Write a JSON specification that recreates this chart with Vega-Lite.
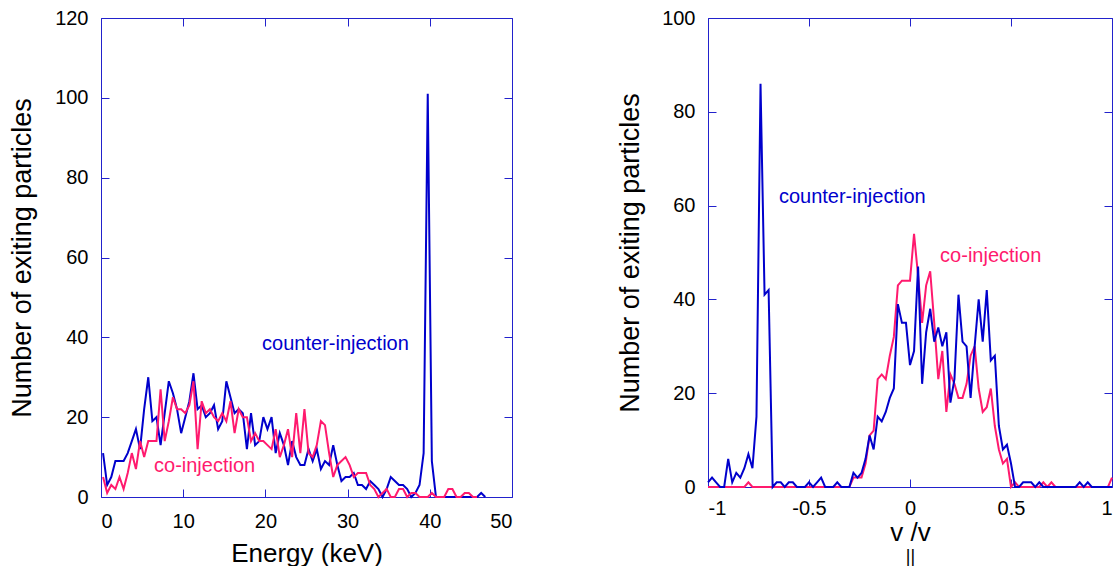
{
 "$schema": "https://vega.github.io/schema/vega-lite/v6.json",
 "background": "white",
 "padding": {"left": 8, "top": 8, "right": 0, "bottom": 0},
 "spacing": 103,
 "config": {
  "view": {"stroke": null},
  "font": "Liberation Sans",
  "axis": {"labelFont": "Liberation Sans", "titleFont": "Liberation Sans", "labelFontSize": 20, "titleFontSize": 26, "titleFontWeight": "normal", "labelColor": "#000000", "titleColor": "#000000", "domainColor": "#2222cc", "tickColor": "#2222cc", "grid": false, "tickSize": -8, "domainWidth": 1, "tickWidth": 1, "zindex": 1},
  "axisY": {"titleFontSize": 27}
 },
 "datasets": {
  "energy": [
   {"series":"counter-injection","E":0.25,"n":11},{"series":"counter-injection","E":0.75,"n":3},{"series":"counter-injection","E":1.25,"n":5},{"series":"counter-injection","E":1.75,"n":9},{"series":"counter-injection","E":2.25,"n":9},{"series":"counter-injection","E":2.75,"n":9},{"series":"counter-injection","E":3.25,"n":11},{"series":"counter-injection","E":3.75,"n":14},{"series":"counter-injection","E":4.25,"n":17},{"series":"counter-injection","E":4.75,"n":12},
   {"series":"counter-injection","E":5.25,"n":22},{"series":"counter-injection","E":5.75,"n":30},{"series":"counter-injection","E":6.25,"n":19},{"series":"counter-injection","E":6.75,"n":20},{"series":"counter-injection","E":7.25,"n":13},{"series":"counter-injection","E":7.75,"n":21},{"series":"counter-injection","E":8.25,"n":29},{"series":"counter-injection","E":8.75,"n":26},{"series":"counter-injection","E":9.25,"n":22},{"series":"counter-injection","E":9.75,"n":16},
   {"series":"counter-injection","E":10.25,"n":20},{"series":"counter-injection","E":10.75,"n":24},{"series":"counter-injection","E":11.25,"n":31},{"series":"counter-injection","E":11.75,"n":22},{"series":"counter-injection","E":12.25,"n":23},{"series":"counter-injection","E":12.75,"n":20},{"series":"counter-injection","E":13.25,"n":21},{"series":"counter-injection","E":13.75,"n":23},{"series":"counter-injection","E":14.25,"n":17},{"series":"counter-injection","E":14.75,"n":19},
   {"series":"counter-injection","E":15.25,"n":29},{"series":"counter-injection","E":15.75,"n":25},{"series":"counter-injection","E":16.25,"n":21},{"series":"counter-injection","E":16.75,"n":22},{"series":"counter-injection","E":17.25,"n":21},{"series":"counter-injection","E":17.75,"n":12},{"series":"counter-injection","E":18.25,"n":21},{"series":"counter-injection","E":18.75,"n":13},{"series":"counter-injection","E":19.25,"n":14},{"series":"counter-injection","E":19.75,"n":20},
   {"series":"counter-injection","E":20.25,"n":17},{"series":"counter-injection","E":20.75,"n":20},{"series":"counter-injection","E":21.25,"n":11},{"series":"counter-injection","E":21.75,"n":16},{"series":"counter-injection","E":22.25,"n":13},{"series":"counter-injection","E":22.75,"n":8},{"series":"counter-injection","E":23.25,"n":14},{"series":"counter-injection","E":23.75,"n":10},{"series":"counter-injection","E":24.25,"n":8},{"series":"counter-injection","E":24.75,"n":8},
   {"series":"counter-injection","E":25.25,"n":12},{"series":"counter-injection","E":25.75,"n":9},{"series":"counter-injection","E":26.25,"n":12},{"series":"counter-injection","E":26.75,"n":7},{"series":"counter-injection","E":27.25,"n":9},{"series":"counter-injection","E":27.75,"n":8},{"series":"counter-injection","E":28.25,"n":13},{"series":"counter-injection","E":28.75,"n":8},{"series":"counter-injection","E":29.25,"n":4},{"series":"counter-injection","E":29.75,"n":5},
   {"series":"counter-injection","E":30.25,"n":5},{"series":"counter-injection","E":30.75,"n":6},{"series":"counter-injection","E":31.25,"n":3},{"series":"counter-injection","E":31.75,"n":3},{"series":"counter-injection","E":32.25,"n":2},{"series":"counter-injection","E":32.75,"n":4},{"series":"counter-injection","E":33.25,"n":3},{"series":"counter-injection","E":33.75,"n":2},{"series":"counter-injection","E":34.25,"n":0},{"series":"counter-injection","E":34.75,"n":2},
   {"series":"counter-injection","E":35.25,"n":5},{"series":"counter-injection","E":35.75,"n":4},{"series":"counter-injection","E":36.25,"n":3},{"series":"counter-injection","E":36.75,"n":3},{"series":"counter-injection","E":37.25,"n":2},{"series":"counter-injection","E":37.75,"n":0},{"series":"counter-injection","E":38.25,"n":1},{"series":"counter-injection","E":38.75,"n":3},{"series":"counter-injection","E":39.25,"n":11},{"series":"counter-injection","E":39.75,"n":101},
   {"series":"counter-injection","E":40.25,"n":9},{"series":"counter-injection","E":40.75,"n":0},{"series":"counter-injection","E":41.25,"n":0},{"series":"counter-injection","E":41.75,"n":0},{"series":"counter-injection","E":42.25,"n":0},{"series":"counter-injection","E":42.75,"n":0},{"series":"counter-injection","E":43.25,"n":0},{"series":"counter-injection","E":43.75,"n":0},{"series":"counter-injection","E":44.25,"n":0},{"series":"counter-injection","E":44.75,"n":0},
   {"series":"counter-injection","E":45.25,"n":0},{"series":"counter-injection","E":45.75,"n":0},{"series":"counter-injection","E":46.25,"n":1},{"series":"counter-injection","E":46.75,"n":0},
   {"series":"co-injection","E":0.25,"n":5},{"series":"co-injection","E":0.75,"n":1},{"series":"co-injection","E":1.25,"n":3},{"series":"co-injection","E":1.75,"n":2},{"series":"co-injection","E":2.25,"n":5},{"series":"co-injection","E":2.75,"n":2},{"series":"co-injection","E":3.25,"n":6},{"series":"co-injection","E":3.75,"n":11},{"series":"co-injection","E":4.25,"n":7},{"series":"co-injection","E":4.75,"n":14},
   {"series":"co-injection","E":5.25,"n":10},{"series":"co-injection","E":5.75,"n":14},{"series":"co-injection","E":6.25,"n":14},{"series":"co-injection","E":6.75,"n":14},{"series":"co-injection","E":7.25,"n":27},{"series":"co-injection","E":7.75,"n":14},{"series":"co-injection","E":8.25,"n":19},{"series":"co-injection","E":8.75,"n":25},{"series":"co-injection","E":9.25,"n":22},{"series":"co-injection","E":9.75,"n":22},
   {"series":"co-injection","E":10.25,"n":21},{"series":"co-injection","E":10.75,"n":23},{"series":"co-injection","E":11.25,"n":29},{"series":"co-injection","E":11.75,"n":12},{"series":"co-injection","E":12.25,"n":24},{"series":"co-injection","E":12.75,"n":21},{"series":"co-injection","E":13.25,"n":22},{"series":"co-injection","E":13.75,"n":20},{"series":"co-injection","E":14.25,"n":19},{"series":"co-injection","E":14.75,"n":21},
   {"series":"co-injection","E":15.25,"n":19},{"series":"co-injection","E":15.75,"n":24},{"series":"co-injection","E":16.25,"n":16},{"series":"co-injection","E":16.75,"n":22},{"series":"co-injection","E":17.25,"n":20},{"series":"co-injection","E":17.75,"n":20},{"series":"co-injection","E":18.25,"n":14},{"series":"co-injection","E":18.75,"n":16},{"series":"co-injection","E":19.25,"n":14},{"series":"co-injection","E":19.75,"n":14},
   {"series":"co-injection","E":20.25,"n":13},{"series":"co-injection","E":20.75,"n":12},{"series":"co-injection","E":21.25,"n":17},{"series":"co-injection","E":21.75,"n":10},{"series":"co-injection","E":22.25,"n":13},{"series":"co-injection","E":22.75,"n":17},{"series":"co-injection","E":23.25,"n":10},{"series":"co-injection","E":23.75,"n":21},{"series":"co-injection","E":24.25,"n":11},{"series":"co-injection","E":24.75,"n":22},
   {"series":"co-injection","E":25.25,"n":11},{"series":"co-injection","E":25.75,"n":10},{"series":"co-injection","E":26.25,"n":13},{"series":"co-injection","E":26.75,"n":19},{"series":"co-injection","E":27.25,"n":18},{"series":"co-injection","E":27.75,"n":11},{"series":"co-injection","E":28.25,"n":5},{"series":"co-injection","E":28.75,"n":8},{"series":"co-injection","E":29.25,"n":9},{"series":"co-injection","E":29.75,"n":10},
   {"series":"co-injection","E":30.25,"n":8},{"series":"co-injection","E":30.75,"n":5},{"series":"co-injection","E":31.25,"n":6},{"series":"co-injection","E":31.75,"n":6},{"series":"co-injection","E":32.25,"n":6},{"series":"co-injection","E":32.75,"n":3},{"series":"co-injection","E":33.25,"n":2},{"series":"co-injection","E":33.75,"n":0},{"series":"co-injection","E":34.25,"n":1},{"series":"co-injection","E":34.75,"n":2},
   {"series":"co-injection","E":35.25,"n":0},{"series":"co-injection","E":35.75,"n":0},{"series":"co-injection","E":36.25,"n":2},{"series":"co-injection","E":36.75,"n":2},{"series":"co-injection","E":37.25,"n":0},{"series":"co-injection","E":37.75,"n":1},{"series":"co-injection","E":38.25,"n":1},{"series":"co-injection","E":38.75,"n":0},{"series":"co-injection","E":39.25,"n":0},{"series":"co-injection","E":39.75,"n":0},
   {"series":"co-injection","E":40.25,"n":1},{"series":"co-injection","E":40.75,"n":0},{"series":"co-injection","E":41.25,"n":0},{"series":"co-injection","E":41.75,"n":0},{"series":"co-injection","E":42.25,"n":2},{"series":"co-injection","E":42.75,"n":2},{"series":"co-injection","E":43.25,"n":0},{"series":"co-injection","E":43.75,"n":0},{"series":"co-injection","E":44.25,"n":1},{"series":"co-injection","E":44.75,"n":1},
   {"series":"co-injection","E":45.25,"n":0},{"series":"co-injection","E":45.75,"n":0}
  ],
  "vel": [
   {"series":"co-injection","v":-1.0,"n":0},{"series":"co-injection","v":-0.98,"n":0},{"series":"co-injection","v":-0.96,"n":0},{"series":"co-injection","v":-0.94,"n":0},{"series":"co-injection","v":-0.92,"n":0},{"series":"co-injection","v":-0.9,"n":0},{"series":"co-injection","v":-0.88,"n":0},{"series":"co-injection","v":-0.86,"n":0},{"series":"co-injection","v":-0.84,"n":0},{"series":"co-injection","v":-0.82,"n":0},
   {"series":"co-injection","v":-0.8,"n":1},{"series":"co-injection","v":-0.78,"n":0},{"series":"co-injection","v":-0.76,"n":0},{"series":"co-injection","v":-0.74,"n":0},{"series":"co-injection","v":-0.72,"n":0},{"series":"co-injection","v":-0.7,"n":0},{"series":"co-injection","v":-0.68,"n":0},{"series":"co-injection","v":-0.66,"n":0},{"series":"co-injection","v":-0.64,"n":0},{"series":"co-injection","v":-0.62,"n":0},
   {"series":"co-injection","v":-0.6,"n":0},{"series":"co-injection","v":-0.58,"n":0},{"series":"co-injection","v":-0.56,"n":0},{"series":"co-injection","v":-0.54,"n":0},{"series":"co-injection","v":-0.52,"n":0},{"series":"co-injection","v":-0.5,"n":0},{"series":"co-injection","v":-0.48,"n":0},{"series":"co-injection","v":-0.46,"n":0},{"series":"co-injection","v":-0.44,"n":0},{"series":"co-injection","v":-0.42,"n":0},
   {"series":"co-injection","v":-0.4,"n":0},{"series":"co-injection","v":-0.38,"n":0},{"series":"co-injection","v":-0.36,"n":0},{"series":"co-injection","v":-0.34,"n":0},{"series":"co-injection","v":-0.32,"n":0},{"series":"co-injection","v":-0.3,"n":0},{"series":"co-injection","v":-0.28,"n":2},{"series":"co-injection","v":-0.26,"n":2},{"series":"co-injection","v":-0.24,"n":2},{"series":"co-injection","v":-0.22,"n":5},
   {"series":"co-injection","v":-0.2,"n":11},{"series":"co-injection","v":-0.18,"n":12},{"series":"co-injection","v":-0.16,"n":23},{"series":"co-injection","v":-0.14,"n":24},{"series":"co-injection","v":-0.12,"n":23},{"series":"co-injection","v":-0.1,"n":28},{"series":"co-injection","v":-0.08,"n":32},{"series":"co-injection","v":-0.06,"n":43},{"series":"co-injection","v":-0.04,"n":44},{"series":"co-injection","v":-0.02,"n":44},
   {"series":"co-injection","v":0.0,"n":44},{"series":"co-injection","v":0.02,"n":54},{"series":"co-injection","v":0.04,"n":45},{"series":"co-injection","v":0.06,"n":35},{"series":"co-injection","v":0.08,"n":43},{"series":"co-injection","v":0.1,"n":46},{"series":"co-injection","v":0.12,"n":35},{"series":"co-injection","v":0.14,"n":23},{"series":"co-injection","v":0.16,"n":29},{"series":"co-injection","v":0.18,"n":16},
   {"series":"co-injection","v":0.2,"n":24},{"series":"co-injection","v":0.22,"n":22},{"series":"co-injection","v":0.24,"n":19},{"series":"co-injection","v":0.26,"n":19},{"series":"co-injection","v":0.28,"n":22},{"series":"co-injection","v":0.3,"n":28},{"series":"co-injection","v":0.32,"n":30},{"series":"co-injection","v":0.34,"n":21},{"series":"co-injection","v":0.36,"n":16},{"series":"co-injection","v":0.38,"n":17},
   {"series":"co-injection","v":0.4,"n":21},{"series":"co-injection","v":0.42,"n":13},{"series":"co-injection","v":0.44,"n":8},{"series":"co-injection","v":0.46,"n":5},{"series":"co-injection","v":0.48,"n":6},{"series":"co-injection","v":0.5,"n":0},{"series":"co-injection","v":0.52,"n":1},{"series":"co-injection","v":0.54,"n":0},{"series":"co-injection","v":0.56,"n":0},{"series":"co-injection","v":0.58,"n":0},
   {"series":"co-injection","v":0.6,"n":0},{"series":"co-injection","v":0.62,"n":0},{"series":"co-injection","v":0.64,"n":0},{"series":"co-injection","v":0.66,"n":1},{"series":"co-injection","v":0.68,"n":0},{"series":"co-injection","v":0.7,"n":1},{"series":"co-injection","v":0.72,"n":0},{"series":"co-injection","v":0.74,"n":0},{"series":"co-injection","v":0.76,"n":0},{"series":"co-injection","v":0.78,"n":0},
   {"series":"co-injection","v":0.8,"n":0},{"series":"co-injection","v":0.82,"n":0},{"series":"co-injection","v":0.84,"n":0},{"series":"co-injection","v":0.86,"n":0},{"series":"co-injection","v":0.88,"n":0},{"series":"co-injection","v":0.9,"n":0},{"series":"co-injection","v":0.92,"n":0},{"series":"co-injection","v":0.94,"n":0},{"series":"co-injection","v":0.96,"n":0},{"series":"co-injection","v":0.98,"n":0},{"series":"co-injection","v":1.0,"n":2},
   {"series":"counter-injection","v":-1.0,"n":1},{"series":"counter-injection","v":-0.98,"n":2},{"series":"counter-injection","v":-0.96,"n":1},{"series":"counter-injection","v":-0.94,"n":0},{"series":"counter-injection","v":-0.92,"n":0},{"series":"counter-injection","v":-0.9,"n":6},{"series":"counter-injection","v":-0.88,"n":1},{"series":"counter-injection","v":-0.86,"n":3},{"series":"counter-injection","v":-0.84,"n":2},{"series":"counter-injection","v":-0.82,"n":4},
   {"series":"counter-injection","v":-0.8,"n":7},{"series":"counter-injection","v":-0.78,"n":4},{"series":"counter-injection","v":-0.76,"n":15},{"series":"counter-injection","v":-0.74,"n":86},{"series":"counter-injection","v":-0.72,"n":41},{"series":"counter-injection","v":-0.7,"n":42},{"series":"counter-injection","v":-0.68,"n":0},{"series":"counter-injection","v":-0.66,"n":1},{"series":"counter-injection","v":-0.64,"n":1},{"series":"counter-injection","v":-0.62,"n":0},
   {"series":"counter-injection","v":-0.6,"n":1},{"series":"counter-injection","v":-0.58,"n":1},{"series":"counter-injection","v":-0.56,"n":0},{"series":"counter-injection","v":-0.54,"n":0},{"series":"counter-injection","v":-0.52,"n":0},{"series":"counter-injection","v":-0.5,"n":1},{"series":"counter-injection","v":-0.48,"n":0},{"series":"counter-injection","v":-0.46,"n":1},{"series":"counter-injection","v":-0.44,"n":2},{"series":"counter-injection","v":-0.42,"n":0},
   {"series":"counter-injection","v":-0.4,"n":0},{"series":"counter-injection","v":-0.38,"n":0},{"series":"counter-injection","v":-0.36,"n":1},{"series":"counter-injection","v":-0.34,"n":0},{"series":"counter-injection","v":-0.32,"n":0},{"series":"counter-injection","v":-0.3,"n":0},{"series":"counter-injection","v":-0.28,"n":3},{"series":"counter-injection","v":-0.26,"n":2},{"series":"counter-injection","v":-0.24,"n":3},{"series":"counter-injection","v":-0.22,"n":6},
   {"series":"counter-injection","v":-0.2,"n":11},{"series":"counter-injection","v":-0.18,"n":8},{"series":"counter-injection","v":-0.16,"n":15},{"series":"counter-injection","v":-0.14,"n":14},{"series":"counter-injection","v":-0.12,"n":16},{"series":"counter-injection","v":-0.1,"n":19},{"series":"counter-injection","v":-0.08,"n":21},{"series":"counter-injection","v":-0.06,"n":39},{"series":"counter-injection","v":-0.04,"n":35},{"series":"counter-injection","v":-0.02,"n":35},
   {"series":"counter-injection","v":0.0,"n":26},{"series":"counter-injection","v":0.02,"n":29},{"series":"counter-injection","v":0.04,"n":47},{"series":"counter-injection","v":0.06,"n":22},{"series":"counter-injection","v":0.08,"n":33},{"series":"counter-injection","v":0.1,"n":38},{"series":"counter-injection","v":0.12,"n":31},{"series":"counter-injection","v":0.14,"n":34},{"series":"counter-injection","v":0.16,"n":30},{"series":"counter-injection","v":0.18,"n":33},
   {"series":"counter-injection","v":0.2,"n":18},{"series":"counter-injection","v":0.22,"n":23},{"series":"counter-injection","v":0.24,"n":41},{"series":"counter-injection","v":0.26,"n":31},{"series":"counter-injection","v":0.28,"n":30},{"series":"counter-injection","v":0.3,"n":19},{"series":"counter-injection","v":0.32,"n":30},{"series":"counter-injection","v":0.34,"n":40},{"series":"counter-injection","v":0.36,"n":31},{"series":"counter-injection","v":0.38,"n":42},
   {"series":"counter-injection","v":0.4,"n":27},{"series":"counter-injection","v":0.42,"n":28},{"series":"counter-injection","v":0.44,"n":13},{"series":"counter-injection","v":0.46,"n":8},{"series":"counter-injection","v":0.48,"n":9},{"series":"counter-injection","v":0.5,"n":5},{"series":"counter-injection","v":0.52,"n":0},{"series":"counter-injection","v":0.54,"n":0},{"series":"counter-injection","v":0.56,"n":1},{"series":"counter-injection","v":0.58,"n":1},
   {"series":"counter-injection","v":0.6,"n":1},{"series":"counter-injection","v":0.62,"n":0},{"series":"counter-injection","v":0.64,"n":1},{"series":"counter-injection","v":0.66,"n":0},{"series":"counter-injection","v":0.68,"n":0},{"series":"counter-injection","v":0.7,"n":0},{"series":"counter-injection","v":0.72,"n":0},{"series":"counter-injection","v":0.74,"n":0},{"series":"counter-injection","v":0.76,"n":0},{"series":"counter-injection","v":0.78,"n":0},
   {"series":"counter-injection","v":0.8,"n":0},{"series":"counter-injection","v":0.82,"n":0},{"series":"counter-injection","v":0.84,"n":1},{"series":"counter-injection","v":0.86,"n":0},{"series":"counter-injection","v":0.88,"n":1},{"series":"counter-injection","v":0.9,"n":0},{"series":"counter-injection","v":0.92,"n":0},{"series":"counter-injection","v":0.94,"n":0},{"series":"counter-injection","v":0.96,"n":0},{"series":"counter-injection","v":0.98,"n":0},{"series":"counter-injection","v":1.0,"n":0}
  ],
  "labelsE": [
   {"series":"counter-injection","E":19.6,"n":38.3,"label":"counter-injection"},
   {"series":"co-injection","E":6.45,"n":7.8,"label":"co-injection"}
  ],
  "labelsV": [
   {"series":"counter-injection","v":-0.649,"n":61.8,"label":"counter-injection"},
   {"series":"co-injection","v":0.149,"n":49.3,"label":"co-injection"}
  ]
 },
 "hconcat": [
  {
   "width": 411, "height": 479,
   "layer": [
    {
     "data": {"name": "energy"},
     "mark": {"type": "line", "strokeWidth": 2},
     "encoding": {
      "x": {"field": "E", "type": "quantitative", "scale": {"domain": [0, 50], "nice": false, "zero": false}, "axis": {"orient": "bottom", "values": [0, 10, 20, 30, 40, 50], "title": "Energy (keV)", "labelPadding": 22, "titlePadding": 9}},
      "y": {"field": "n", "type": "quantitative", "scale": {"domain": [0, 120], "nice": false}, "axis": {"orient": "left", "values": [0, 20, 40, 60, 80, 100, 120], "title": "Number of exiting particles", "labelPadding": 21, "titlePadding": 18}},
      "color": {"field": "series", "type": "nominal", "scale": {"domain": ["counter-injection", "co-injection"], "range": ["#0000cc", "#ff1a6e"]}, "legend": null}
     }
    },
    {
     "data": {"name": "labelsE"},
     "mark": {"type": "text", "align": "left", "baseline": "middle", "fontSize": 20, "font": "Liberation Sans"},
     "encoding": {
      "x": {"field": "E", "type": "quantitative", "axis": {"orient": "top", "labels": false, "title": null, "values": [0, 10, 20, 30, 40, 50]}},
      "y": {"field": "n", "type": "quantitative", "axis": {"orient": "right", "labels": false, "title": null, "values": [0, 20, 40, 60, 80, 100, 120]}},
      "text": {"field": "label"},
      "color": {"field": "series", "type": "nominal", "legend": null}
     }
    }
   ],
   "resolve": {"axis": {"x": "independent", "y": "independent"}}
  },
  {
   "width": 404, "height": 469,
   "layer": [
    {
     "data": {"name": "vel"},
     "mark": {"type": "line", "strokeWidth": 2},
     "encoding": {
      "x": {"field": "v", "type": "quantitative", "scale": {"domain": [-1, 1], "nice": false, "zero": false}, "axis": {"orient": "bottom", "values": [-1, -0.5, 0, 0.5, 1], "labelExpr": "datum.value < 0 ? '-' + format(-datum.value, '~g') : format(datum.value, '~g')", "title": "v /v", "labelPadding": 19, "titlePadding": 1}},
      "y": {"field": "n", "type": "quantitative", "scale": {"domain": [0, 100], "nice": false}, "axis": {"orient": "left", "values": [0, 20, 40, 60, 80, 100], "title": "Number of exiting particles", "labelPadding": 21, "titlePadding": 17}},
      "color": {"field": "series", "type": "nominal", "scale": {"domain": ["counter-injection", "co-injection"], "range": ["#0000cc", "#ff1a6e"]}, "legend": null}
     }
    },
    {
     "data": {"name": "labelsV"},
     "mark": {"type": "text", "align": "left", "baseline": "middle", "fontSize": 20, "font": "Liberation Sans"},
     "encoding": {
      "x": {"field": "v", "type": "quantitative", "axis": {"orient": "top", "labels": false, "title": null, "values": [-1, -0.5, 0, 0.5, 1]}},
      "y": {"field": "n", "type": "quantitative", "axis": {"orient": "right", "labels": false, "title": null, "values": [0, 20, 40, 60, 80, 100]}},
      "text": {"field": "label"},
      "color": {"field": "series", "type": "nominal", "legend": null}
     }
    },
    {
     "data": {"name": "labelsV"},
     "mark": {"type": "point", "opacity": 0},
     "encoding": {
      "x": {"field": "v", "type": "quantitative", "axis": {"orient": "bottom", "labels": false, "ticks": false, "domain": false, "title": "||", "titleFontSize": 18, "titlePadding": 60}},
      "y": {"field": "n", "type": "quantitative", "axis": null}
     }
    }
   ],
   "resolve": {"axis": {"x": "independent", "y": "independent"}}
  }
 ]
}
